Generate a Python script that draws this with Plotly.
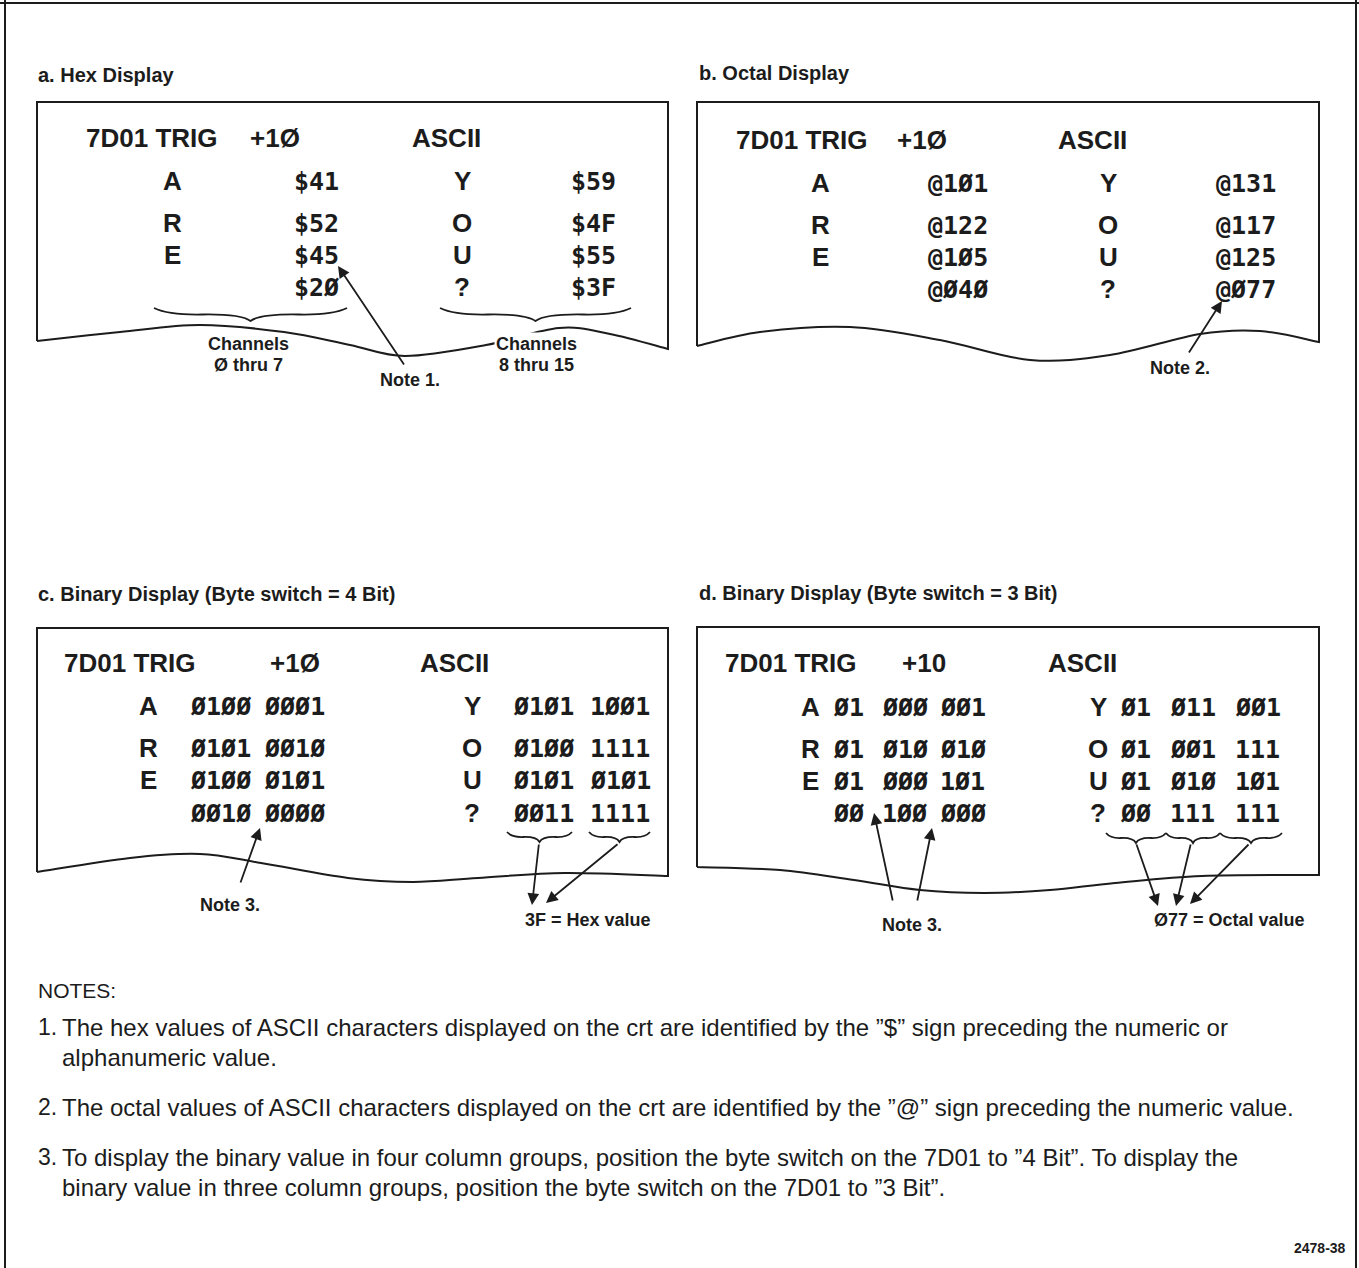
import plotly.graph_objects as go

# ---- text content of the four displays ----
header_left = ["7D01 TRIG", "+1Ø", "ASCII"]
header_d = ["7D01 TRIG", "+10", "ASCII"]

chars_left = ["A", "R", "E", ""]
chars_right = ["Y", "O", "U", "?"]

hex_left = ["$41", "$52", "$45", "$2Ø"]
hex_right = ["$59", "$4F", "$55", "$3F"]

oct_left = ["@1Ø1", "@122", "@1Ø5", "@Ø4Ø"]
oct_right = ["@131", "@117", "@125", "@Ø77"]

bin4_left = [["Ø1ØØ", "ØØØ1"], ["Ø1Ø1", "ØØ1Ø"], ["Ø1ØØ", "Ø1Ø1"], ["ØØ1Ø", "ØØØØ"]]
bin4_right = [["Ø1Ø1", "1ØØ1"], ["Ø1ØØ", "1111"], ["Ø1Ø1", "Ø1Ø1"], ["ØØ11", "1111"]]

bin3_left = [["Ø1", "ØØØ", "ØØ1"], ["Ø1", "Ø1Ø", "Ø1Ø"], ["Ø1", "ØØØ", "1Ø1"], ["ØØ", "1ØØ", "ØØØ"]]
bin3_right = [["Ø1", "Ø11", "ØØ1"], ["Ø1", "ØØ1", "111"], ["Ø1", "Ø1Ø", "1Ø1"], ["ØØ", "111", "111"]]

panel_titles = ["a. Hex Display", "b. Octal Display",
                "c. Binary Display (Byte switch = 4 Bit)",
                "d. Binary Display (Byte switch = 3 Bit)"]

notes_title = "NOTES:"
note_numbers = ["1.", "2.", "3."]
note_lines = [
    ["The hex values of ASCII characters displayed on the crt are identified by the \u201d$\u201d sign preceding the numeric or",
     "alphanumeric value."],
    ["The octal values of ASCII characters displayed on the crt are identified by the \u201d@\u201d sign preceding the numeric value."],
    ["To display the binary value in four column groups, position the byte switch on the 7D01 to \u201d4 Bit\u201d. To display the",
     "binary value in three column groups, position the byte switch on the 7D01 to \u201d3 Bit\u201d."],
]
fig_number = "2478-38"

INK = "#1c1c1c"
FONT = "Liberation Sans, Arial, sans-serif"
MONO = "DejaVu Sans Mono, Liberation Mono, monospace"

fig = go.Figure()
shapes = []
annotations = []


def txt(x, y, s, size=26, bold=True, anchor="left", family=FONT, bg=None):
    a = dict(x=x, y=y, text=s, showarrow=False, xanchor=anchor, yanchor="middle",
             font=dict(family=family, size=size, color=INK, weight="bold" if bold else "normal"))
    if bg:
        a["bgcolor"] = bg
    annotations.append(a)


def val(x, y, s):
    # crt values, slashed zeros kept at digit width
    txt(x, y, s, size=25, family=MONO)


def arrow(x0, y0, x1, y1):
    annotations.append(dict(x=x1, y=y1, ax=x0, ay=y0, xref="x", yref="y", axref="x", ayref="y",
                            text="", showarrow=True, arrowhead=2, arrowsize=1.3, arrowwidth=1.8,
                            arrowcolor=INK, standoff=0, startstandoff=0))


def smooth(pts):
    d = ""
    n = len(pts)
    for i in range(n - 1):
        p0 = pts[i - 1] if i > 0 else pts[i]
        p1, p2 = pts[i], pts[i + 1]
        p3 = pts[i + 2] if i + 2 < n else p2
        c1 = (p1[0] + (p2[0] - p0[0]) / 6, p1[1] + (p2[1] - p0[1]) / 6)
        c2 = (p2[0] - (p3[0] - p1[0]) / 6, p2[1] - (p3[1] - p1[1]) / 6)
        d += f" C{c1[0]:.1f},{c1[1]:.1f} {c2[0]:.1f},{c2[1]:.1f} {p2[0]:.1f},{p2[1]:.1f}"
    return d


def paper_box(left, right, top, wave):
    # wave: points from left to right along the torn bottom edge
    bl, br = wave[0][1], wave[-1][1]
    path = f"M{left},{bl} L{left},{top} L{right},{top} L{right},{br}"
    path += smooth(list(reversed(wave)))
    shapes.append(dict(type="path", path=path, line=dict(color=INK, width=2), layer="below"))


def brace(x1, x2, y0, h):
    xm = (x1 + x2) / 2
    w = (x2 - x1) / 2
    path = (f"M{x1},{y0} Q{x1 + w * 0.15},{y0 + h * 0.55} {x1 + w * 0.5},{y0 + h * 0.5}"
            f" Q{xm - w * 0.1},{y0 + h * 0.45} {xm},{y0 + h}"
            f" Q{xm + w * 0.1},{y0 + h * 0.45} {x2 - w * 0.5},{y0 + h * 0.5}"
            f" Q{x2 - w * 0.15},{y0 + h * 0.55} {x2},{y0}")
    shapes.append(dict(type="path", path=path, line=dict(color=INK, width=1.8)))


# outer frame
shapes.append(dict(type="line", x0=5, x1=5, y0=0, y1=1268, line=dict(color=INK, width=2)))
shapes.append(dict(type="line", x0=0, x1=1359, y0=3, y1=3, line=dict(color=INK, width=2)))
shapes.append(dict(type="line", x0=1356, x1=1356, y0=0, y1=1268, line=dict(color=INK, width=2)))

# panel titles
txt(36, 75, panel_titles[0], size=20)
txt(697, 73, panel_titles[1], size=20)
txt(36, 594, panel_titles[2], size=20)
txt(697, 593, panel_titles[3], size=20)

# ---- a. Hex ----
paper_box(37, 668, 102, [(37, 341), (120, 332), (200, 325), (284, 332), (350, 345), (405, 356),
                         (486, 345), (559, 328), (610, 334), (668, 349)])
txt(84, 138, header_left[0]); txt(248, 138, header_left[1]); txt(410, 138, header_left[2])
rows_a = [181, 223, 255, 287]
for i, y in enumerate(rows_a):
    txt(172, y, chars_left[i], anchor="center")
    val(292, y, hex_left[i])
    txt(462, y, chars_right[i], anchor="center")
    val(569, y, hex_right[i])
brace(154, 347, 308, 13)
brace(440, 631, 308, 13)
txt(248, 344, "Channels", size=18, anchor="center")
txt(248, 365, "Ø thru 7", size=18, anchor="center")
txt(536, 344, "Channels", size=18, anchor="center", bg="white")
txt(536, 365, "8 thru 15", size=18, anchor="center")
arrow(405, 366, 338, 266)
txt(410, 380, "Note 1.", size=18, anchor="center")

# ---- b. Octal ----
paper_box(697, 1319, 102, [(697, 346), (760, 332), (850, 327), (940, 340), (1030, 360), (1110, 355),
                           (1200, 334), (1260, 331), (1319, 342)])
txt(734, 140, header_left[0]); txt(895, 140, header_left[1]); txt(1056, 140, header_left[2])
rows_b = [183, 225, 257, 289]
for i, y in enumerate(rows_b):
    txt(820, y, chars_left[i], anchor="center")
    val(926, y, oct_left[i])
    txt(1108, y, chars_right[i], anchor="center")
    val(1214, y, oct_right[i])
arrow(1188, 354, 1222, 301)
txt(1180, 368, "Note 2.", size=18, anchor="center")

# ---- c. Binary 4 bit ----
paper_box(37, 668, 628, [(37, 872), (130, 858), (200, 854), (261, 863), (348, 878), (413, 882),
                         (478, 878), (565, 873), (668, 876)])
txt(62, 663, header_left[0]); txt(268, 663, header_left[1]); txt(418, 663, header_left[2])
rows_c = [706, 748, 780, 813]
for i, y in enumerate(rows_c):
    txt(148, y, chars_left[i], anchor="center")
    val(188, y, bin4_left[i][0]); val(262, y, bin4_left[i][1])
    txt(472, y, chars_right[i], anchor="center")
    val(511, y, bin4_right[i][0]); val(588, y, bin4_right[i][1])
brace(507, 572, 832, 10)
brace(589, 650, 832, 10)
arrow(240, 884, 260, 828)
txt(230, 905, "Note 3.", size=18, anchor="center")
arrow(539, 843, 532, 905)
arrow(619, 843, 546, 903)
txt(523, 920, "3F = Hex value", size=18)

# ---- d. Binary 3 bit ----
paper_box(697, 1319, 627, [(697, 867), (780, 870), (854, 880), (920, 890), (984, 893), (1050, 890),
                           (1115, 883), (1202, 876), (1319, 875)])
txt(723, 663, header_d[0]); txt(900, 663, header_d[1]); txt(1046, 663, header_d[2])
rows_d = [707, 749, 781, 813]
for i, y in enumerate(rows_d):
    txt(810, y, chars_left[i], anchor="center")
    val(831, y, bin3_left[i][0]); val(880, y, bin3_left[i][1]); val(938, y, bin3_left[i][2])
    txt(1098, y, chars_right[i], anchor="center")
    val(1118, y, bin3_right[i][0]); val(1168, y, bin3_right[i][1]); val(1233, y, bin3_right[i][2])
brace(1106, 1166, 833, 10)
brace(1166, 1220, 833, 10)
brace(1220, 1282, 833, 10)
arrow(893, 902, 874, 813)
arrow(917, 902, 932, 828)
txt(912, 925, "Note 3.", size=18, anchor="center")
arrow(1136, 843, 1158, 906)
arrow(1191, 843, 1176, 906)
arrow(1250, 843, 1190, 904)
txt(1152, 920, "Ø77 = Octal value", size=18)

# ---- notes ----
txt(36, 990, notes_title, size=21, bold=False)
note_y = [[1027, 1057], [1107], [1157, 1187]]
for i, num in enumerate(note_numbers):
    txt(36, note_y[i][0], num, size=23, bold=False)
    for j, line in enumerate(note_lines[i]):
        txt(60, note_y[i][j], line, size=24, bold=False)
txt(1348, 1248, fig_number, size=14, anchor="right")

fig.update_layout(
    width=1359, height=1268,
    margin=dict(l=0, r=0, t=0, b=0),
    paper_bgcolor="white", plot_bgcolor="white",
    xaxis=dict(range=[0, 1359], visible=False, fixedrange=True),
    yaxis=dict(range=[1268, 0], visible=False, fixedrange=True),
    shapes=shapes, annotations=annotations,
    showlegend=False,
)
fig.write_html("out.html", config={"displayModeBar": False},
               post_script="document.body.style.margin='0';document.body.style.overflow='hidden';")
